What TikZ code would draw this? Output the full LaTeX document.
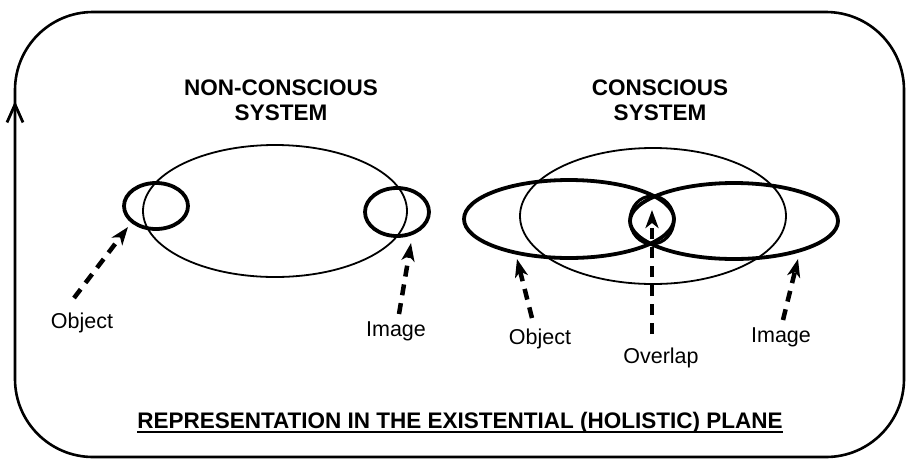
\documentclass[tikz,border=0pt]{standalone}
\usepackage{fontspec}
\setmainfont{Liberation Sans}
\usetikzlibrary{shapes.geometric,arrows.meta}
\begin{document}
\begin{tikzpicture}[x=1pt,y=-1pt,
  thinell/.style={draw, ellipse, line width=1.8pt, inner sep=0pt},
  thickell/.style={draw, ellipse, line width=3.8pt, inner sep=0pt},
  titletext/.style={font=\bfseries\fontsize{22.5}{25}\selectfont, align=center, inner sep=0pt},
  lbl/.style={font=\fontsize{21.5}{24}\selectfont, inner sep=0pt},
  pointer/.style={line width=4.5pt, dash pattern=on 11pt off 8pt, -{Stealth[length=18pt,width=13pt,inset=5pt]}},
]
\useasboundingbox (0,0) rectangle (906,459);
% frame
\draw[line width=2.6pt, rounded corners=78pt] (15,12) rectangle (904,457);
\coordinate (fa) at (15,135);
\coordinate (fb) at (15,101);
\draw[line width=2.8pt, -{Straight Barb[length=18pt,width=16pt]}] (fa) -- (fb);

% titles
\node[titletext] (t1) at (281,100) {NON-CONSCIOUS\\SYSTEM};
\node[titletext] (t2) at (660,100) {CONSCIOUS\\SYSTEM};

% non-conscious system
\node[thinell, minimum width=264pt, minimum height=132pt] (ncBig) at (275,211) {};
\node[thickell, minimum width=64pt, minimum height=46pt] (ncObj) at (156,206) {};
\node[thickell, minimum width=64pt, minimum height=48pt] (ncImg) at (397,212) {};

% conscious system
\node[thinell, minimum width=266pt, minimum height=136pt] (cBig) at (653,216) {};
\node[thickell, minimum width=210pt, minimum height=78pt] (cObj) at (569,219) {};
\node[thickell, minimum width=208pt, minimum height=76pt] (cImg) at (734,221) {};
\node[thickell, line width=3pt, minimum width=44pt, minimum height=48pt] (cOvl) at (652,220) {};

% labels
\node[lbl] (lObj1) at (82,323) {Object};
\node[lbl] (lImg1) at (396,331) {Image};
\node[lbl] (lObj2) at (540,339) {Object};
\node[lbl] (lOvl) at (661,358) {Overlap};
\node[lbl] (lImg2) at (781,337) {Image};

% pointer coordinates
\coordinate (s1) at (74,298);  \coordinate (e1) at (128,227);
\coordinate (s2) at (399,314); \coordinate (e2) at (411,243);
\coordinate (s3) at (532,318); \coordinate (e3) at (517,259);
\coordinate (s4) at (652,334); \coordinate (e4) at (652,210);
\coordinate (s5) at (783,320); \coordinate (e5) at (798,259);
\draw[pointer] (s1) -- (e1);
\draw[pointer] (s2) -- (e2);
\draw[pointer] (s3) -- (e3);
\draw[pointer] (s4) -- (e4);
\draw[pointer] (s5) -- (e5);

% bottom title
\node[font=\bfseries\fontsize{22.5}{26}\selectfont, inner sep=0pt] (bt) at (460,423) {REPRESENTATION IN THE EXISTENTIAL (HOLISTIC) PLANE};
\draw[line width=1.8pt] ([yshift=-3.5pt]bt.base west) -- ([yshift=-3.5pt]bt.base east);
\end{tikzpicture}
\end{document}
